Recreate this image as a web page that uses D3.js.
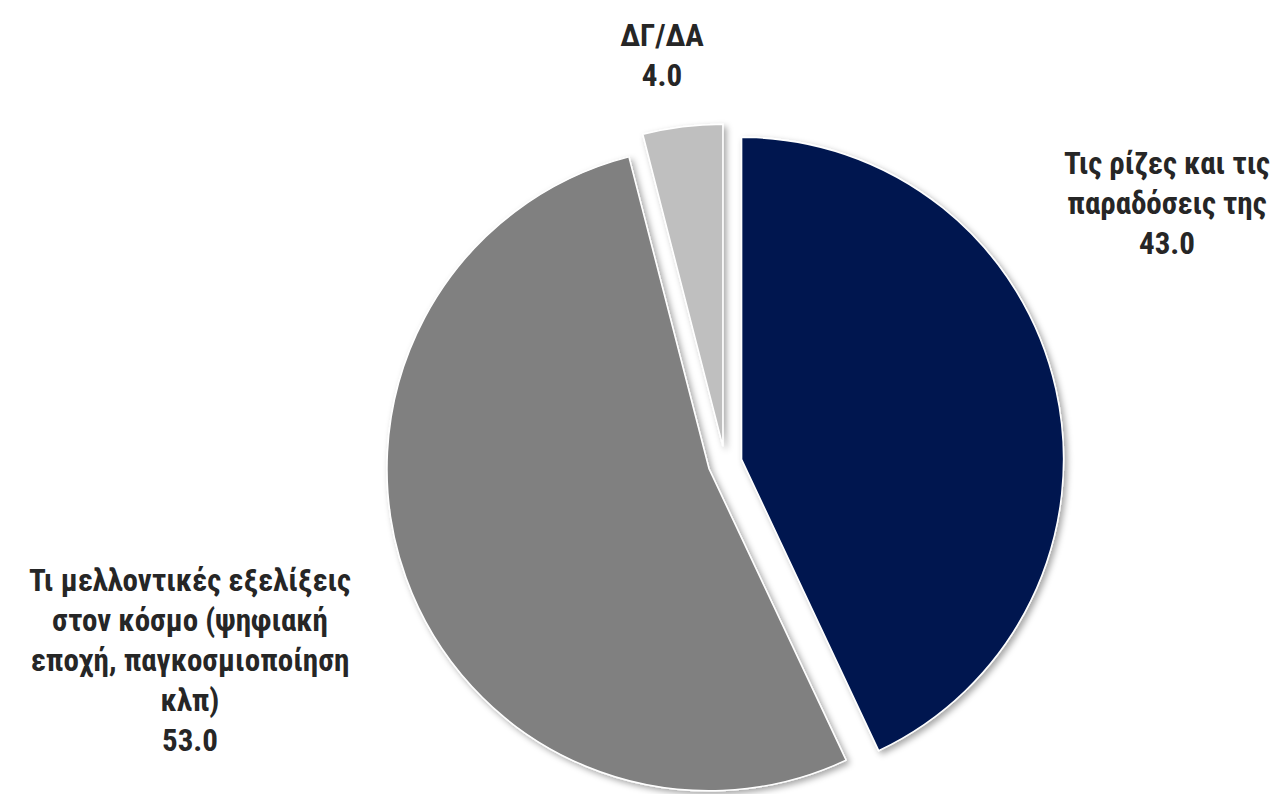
<!DOCTYPE html>
<html><head><meta charset="utf-8">
<script src="https://cdn.jsdelivr.net/npm/d3@7"></script>
<style>
html,body{margin:0;padding:0;background:#fff;}
text{font-family:"Liberation Sans Narrow","Arial Narrow","Roboto Condensed",sans-serif;font-weight:bold;fill:#262626;}
</style></head>
<body><svg id="c" width="1283" height="794"></svg>
<script>
const categories = ["Τις ρίζες και τις παραδόσεις της", "Τι μελλοντικές εξελίξεις στον κόσμο (ψηφιακή εποχή, παγκοσμιοποίηση κλπ)", "ΔΓ/ΔΑ"];
const values = [43.0, 53.0, 4.0];
const colors = ["#001850", "#808080", "#BFBFBF"];
const labelLines = [
  ["Τις ρίζες και τις", "παραδόσεις της"],
  ["Τι μελλοντικές εξελίξεις", "στον κόσμο (ψηφιακή", "εποχή, παγκοσμιοποίηση", "κλπ)"],
  ["ΔΓ/ΔΑ"]
];
const labelPos = [[1167, 163], [190, 580], [662, 35]];

const svg = d3.select("#c");
const defs = svg.append("defs");
const f = defs.append("filter").attr("id","sh").attr("x","-20%").attr("y","-20%").attr("width","140%").attr("height","140%");
f.append("feDropShadow").attr("dx",3).attr("dy",3).attr("stdDeviation",3).attr("flood-color","#000").attr("flood-opacity",0.35);

const cx = 725, cy = 463, r = 322, explode = 17;
const pie = d3.pie().sort(null).value(d => d)(values);
const arc = d3.arc().innerRadius(0).outerRadius(r);
const g = svg.append("g").attr("transform", `translate(${cx},${cy})`);
g.selectAll("path").data(pie).join("path")
  .attr("d", arc)
  .attr("fill", (d,i) => colors[i])
  .attr("stroke", "#fff").attr("stroke-width", 1.5)
  .attr("filter", "url(#sh)")
  .attr("transform", d => {
    const a = (d.startAngle + d.endAngle) / 2;
    return `translate(${explode*Math.sin(a)},${-explode*Math.cos(a)})`;
  });

const lh = 40;
labelLines.forEach((lines, i) => {
  const t = svg.append("text").attr("text-anchor","middle").attr("font-size", 31)
    .attr("dominant-baseline","central");
  const all = lines.concat([values[i].toFixed(1)]);
  all.forEach((s, k) => {
    t.append("tspan").attr("x", labelPos[i][0]).attr("y", labelPos[i][1] + k*lh).text(s);
  });
});
</script></body></html>
